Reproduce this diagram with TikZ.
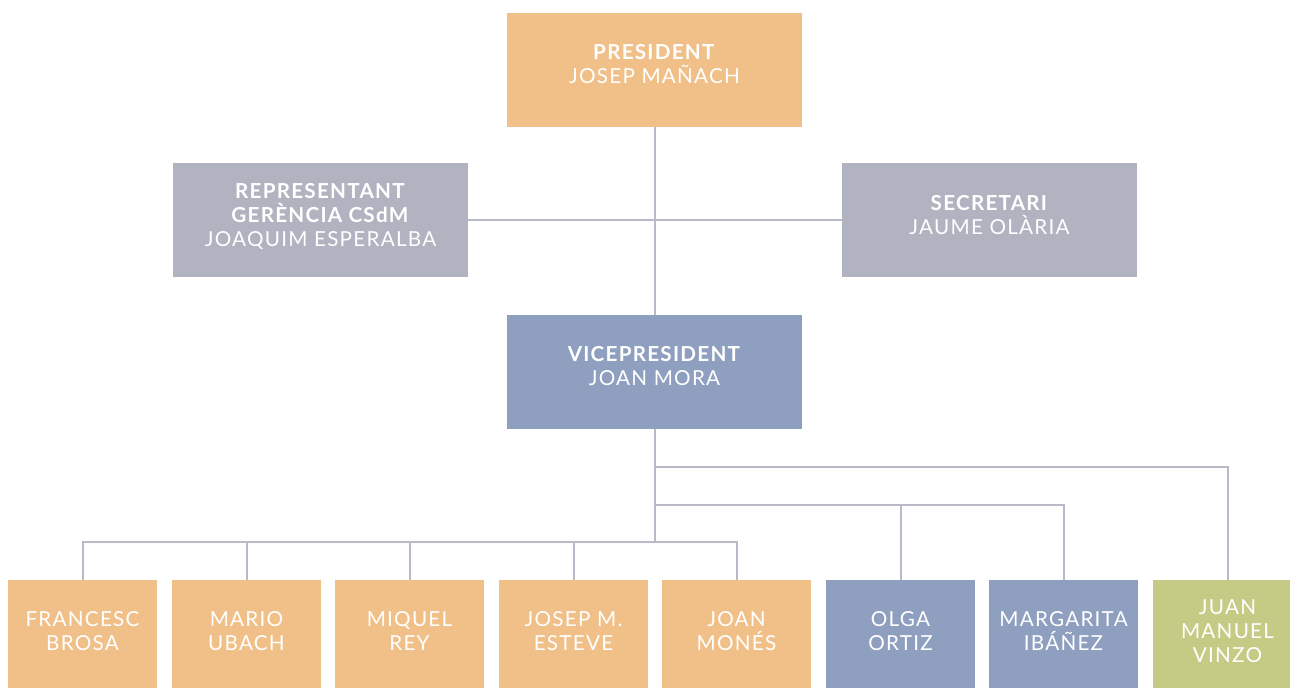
\documentclass[tikz,border=0pt]{standalone}
\usepackage{fontspec}
\setmainfont{Lato}[LetterSpace=6]
\usetikzlibrary{positioning}
\definecolor{boxorange}{HTML}{F0C088}
\definecolor{boxgrey}{HTML}{B1B3C1}
\definecolor{boxblue}{HTML}{8F9FC0}
\definecolor{boxgreen}{HTML}{C5CB85}
\definecolor{linegrey}{HTML}{B9BAC7}

\begin{document}
\begin{tikzpicture}[x=0.75pt,y=-0.75pt,
    bigbox/.style={minimum width=221.25pt,minimum height=85.5pt,inner sep=0pt,align=center,text=white,text depth=9pt,font=\fontsize{15.5}{18}\selectfont},
    smallbox/.style={minimum width=111.75pt,minimum height=85.5pt,inner sep=0pt,align=center,text=white,text depth=9pt,font=\fontsize{15.5}{18}\selectfont},
    link/.style={draw=linegrey,line width=1.5pt}]

        \useasboundingbox (0,0) rectangle (1290,688);
        \clip (0,0) rectangle (1290,688);

        \node[bigbox,fill=boxorange] (pres) at (654.5,70) {\textbf{PRESIDENT}\\JOSEP MAÑACH};
        \node[bigbox,fill=boxgrey] (rep) at (320.5,220.5) {\textbf{REPRESENTANT}\\\textbf{GERÈNCIA CSdM}\\JOAQUIM ESPERALBA};
        \node[bigbox,fill=boxgrey] (sec) at (989.5,220.5) {\textbf{SECRETARI}\\JAUME OLÀRIA};
        \node[bigbox,fill=boxblue] (vice) at (654.5,372) {\textbf{VICEPRESIDENT}\\JOAN MORA};

        \node[smallbox,fill=boxorange] (m1) at (82.5,637) {FRANCESC\\BROSA};
        \node[smallbox,fill=boxorange] (m2) at (246.5,637) {MARIO\\UBACH};
        \node[smallbox,fill=boxorange] (m3) at (409.5,637) {MIQUEL\\REY};
        \node[smallbox,fill=boxorange] (m4) at (573.5,637) {JOSEP M.\\ESTEVE};
        \node[smallbox,fill=boxorange] (m5) at (736.5,637) {JOAN\\MONÉS};
        \node[smallbox,fill=boxblue] (m6) at (900.5,637) {OLGA\\ORTIZ};
        \node[smallbox,fill=boxblue] (m7) at (1063.5,637) {MARGARITA\\IBÁÑEZ};
        \node[smallbox,fill=boxgreen] (m8) at (1227.5,637) {JUAN\\MANUEL\\VINZO};

        \coordinate (busorange) at (654.5,542);
        \coordinate (busblue) at (654.5,505);
        \coordinate (busgreen) at (654.5,467);

        \draw[link] (pres) to (vice);
        \draw[link] (rep) to (sec);

        \draw[link] (vice) to (busorange);
        \draw[link] (m1.north) |- (busorange) -| (m5.north);
        \foreach \m in {m2,m3,m4}
            \draw[link] (\m.north) to (\m.north |- busorange);
        \draw[link] (busblue) -| (m7.north);
        \draw[link] (m6.north) to (m6.north |- busblue);
        \draw[link] (busgreen) -| (m8.north);
    \end{tikzpicture}
\end{document}
